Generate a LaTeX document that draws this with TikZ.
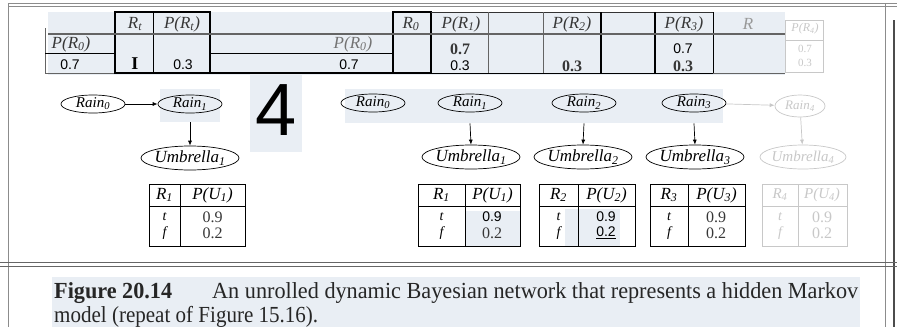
\documentclass[tikz,border=0pt]{standalone}
\usepackage{fontspec}
\setmainfont{Liberation Serif}
\newfontfamily\sansf{Liberation Sans}
\usetikzlibrary{shapes.geometric,arrows.meta}
\definecolor{bandblue}{RGB}{233,238,244}
\definecolor{linegray}{RGB}{100,100,100}
\definecolor{fadegray}{RGB}{200,200,200}
\definecolor{txtgray}{RGB}{55,55,55}
\definecolor{framegray}{RGB}{140,140,140}
\newcommand\fixw[1]{\makebox[40pt]{#1}}
\begin{document}
\begin{tikzpicture}[x=1pt,y=-1pt,
  lbl/.style={inner sep=0pt, font=\fontsize{17}{19}\selectfont\itshape, text=txtgray},
  tlbl/.style={inner sep=0pt, font=\fontsize{17}{19}\selectfont\itshape, text=black},
  tfl/.style={inner sep=0pt, font=\fontsize{14}{15}\selectfont\itshape, text=black},
  num/.style={inner sep=0pt, font=\fontsize{14}{16}\selectfont\sansf},
  sernum/.style={inner sep=0pt, font=\fontsize{16}{18}\selectfont, text=txtgray},
  rainnode/.style={ellipse, draw, line width=0.7pt, minimum width=64pt, minimum height=18pt, inner sep=0pt, font=\fontsize{15}{17}\selectfont\itshape},
  umbnode/.style={ellipse, draw, line width=0.7pt, minimum width=98pt, minimum height=24pt, inner sep=0pt, font=\fontsize{17}{19}\selectfont\itshape},
  arr/.style={-{Latex[length=5pt,width=4pt]}, line width=0.7pt},
  thickbox/.style={draw=black, line width=1.5pt},
  tline/.style={draw=black, line width=0.7pt},
  faded/.style={draw=fadegray, text=fadegray},
  capfont/.style={inner sep=0pt, anchor=base west, font=\fontsize{23}{26}\selectfont, text=black!85}
  ]
\useasboundingbox (0,0) rectangle (897,327);
\fill[white] (0,0) rectangle (897,327);

% ---------- frame ----------
\draw[framegray, line width=0.8pt] (8,3) -- (897,3);
\draw[framegray, line width=0.8pt] (8,6) -- (897,6);
\draw[framegray, line width=1pt] (8,3) -- (8,327);
\draw[framegray, line width=0.8pt] (885,3) -- (885,327);
\draw[black!70, line width=2.5pt] (894,20) -- (894,327);
\draw[black!60, line width=1pt] (0,262) -- (897,262);
\draw[black!60, line width=1pt] (0,266) -- (897,266);

% ---------- top table band ----------
\fill[bandblue] (48,12) rectangle (785,75);
\draw[linegray, line width=0.8pt] (45,28) -- (45,74);
\draw[linegray, line width=0.8pt] (45,73) -- (785,73);
\draw[black, line width=0.8pt] (45,53) -- (115,53);
\draw[thickbox] (115,12) rectangle (210,73);
\draw[tline] (153,12) -- (153,73);
\draw[thickbox] (210,34) rectangle (393,73);
\draw[tline] (210,53) -- (393,53);
\draw[thickbox] (393,12) rectangle (431,73);
\draw[black!80, line width=0.8pt] (431,12) -- (713,12);
\draw[black, line width=1pt] (431,73) -- (713,73);
\draw[linegray, line width=0.8pt] (488,12) -- (488,73);
\draw[linegray, line width=0.8pt] (543,12) -- (543,73);
\draw[black, line width=1.5pt] (601,12) -- (601,73);
\draw[black, line width=1.5pt] (655,12) -- (655,73);
\draw[black, line width=1pt] (713,12) -- (713,73);
\draw[linegray, line width=1.2pt] (48,34) -- (785,34);
\draw[fadegray, line width=0.6pt] (785,20) rectangle (823,72);
\draw[fadegray, line width=0.6pt] (785,40) -- (823,40);

\node[lbl] (hRt) at (135,24) {R\textsubscript{t}};
\node[lbl] (hPRt) at (182,24) {P(R\textsubscript{t})};
\node[lbl] (hPR0a) at (71,44) {P(R\textsubscript{0})};
\node[num] (v07a) at (70,65) {0.7};
\node[inner sep=0pt, font=\fontsize{18}{20}\selectfont\bfseries] (vI) at (135,64) {I};
\node[num] (v03a) at (183,65) {0.3};
\node[lbl, text=black!55] (hPR0b) at (353,44) {P(R\textsubscript{0})};
\node[num] (v07b) at (349,65) {0.7};
\node[lbl] (hRc) at (411,24) {R\textsubscript{0}};
\node[lbl] (hPR1) at (461,24) {P(R\textsubscript{1})};
\node[sernum, font=\fontsize{16}{18}\selectfont\bfseries] (v07c) at (460,49) {0.7};
\node[num] (v03c) at (460,66) {0.3};
\node[lbl] (hPR2) at (572,24) {P(R\textsubscript{2})};
\node[sernum, font=\fontsize{16}{18}\selectfont\bfseries] (v03d) at (572,66) {0.3};
\node[lbl] (hPR3) at (684,24) {P(R\textsubscript{3})};
\node[num] (v07e) at (683,49) {0.7};
\node[sernum, font=\fontsize{16}{18}\selectfont\bfseries] (v03e) at (683,66) {0.3};
\node[lbl, text=black!40] (hR) at (748,24) {R};
\node[lbl, text=fadegray, font=\fontsize{12}{14}\selectfont\itshape] (hPR4) at (805,29) {P(R\textsubscript{4})};
\node[sernum, text=fadegray, font=\fontsize{11}{12}\selectfont] (v07f) at (805,49) {0.7};
\node[sernum, text=fadegray, font=\fontsize{11}{12}\selectfont] (v03f) at (805,63) {0.3};

% ---------- big 4 ----------
\fill[bandblue] (250,75) rectangle (302,152);
\node[inner sep=0pt, font=\fontsize{74}{80}\selectfont\sansf, anchor=base] (four) at (276,135) {4};

% ---------- left network ----------
\fill[bandblue] (160,89) rectangle (220,122);
\node[rainnode] (lr0) at (93,104) {\fixw{Rain\textsubscript{0}}};
\node[rainnode] (lr1) at (190,104) {\fixw{Rain\textsubscript{1}}};
\node[umbnode] (lu1) at (190,158) {\fixw{Umbrella\textsubscript{1}}};
\draw[arr] (lr0) -- (lr1);
\draw[arr] ([yshift=-9pt]lr1.south) -- (lu1.north);
\draw[tline] (149,184) rectangle (245,246);
\draw[tline] (149,206) -- (245,206);
\draw[tline] (180,184) -- (180,246);
\node[tlbl] (lt-h1) at (164.5,195) {R\textsubscript{1}};
\node[tlbl] (lt-h2) at (212.5,195) {P(U\textsubscript{1})};
\node[tfl] (lt-t) at (164.5,217) {t};
\node[tfl] (lt-f) at (164.5,233) {f};
\node[sernum] (lt-09) at (212.5,217) {0.9};
\node[sernum] (lt-02) at (212.5,233) {0.2};

% ---------- right network ----------
\fill[bandblue] (345,89) rectangle (723,123);
\node[rainnode] (r0) at (373,103) {\fixw{Rain\textsubscript{0}}};
\node[rainnode] (r1) at (470,103) {\fixw{Rain\textsubscript{1}}};
\node[rainnode] (r2) at (584,103) {\fixw{Rain\textsubscript{2}}};
\node[rainnode] (r3) at (694,103) {\fixw{Rain\textsubscript{3}}};
\node[rainnode, faded, minimum width=50pt, minimum height=22pt, font=\fontsize{13}{15}\selectfont\itshape] (r4) at (800,106) {\makebox[30pt]{Rain\textsubscript{4}}};
\node[umbnode] (u1) at (471,157) {\fixw{Umbrella\textsubscript{1}}};
\node[umbnode] (u2) at (583,157) {\fixw{Umbrella\textsubscript{2}}};
\node[umbnode] (u3) at (695,157) {\fixw{Umbrella\textsubscript{3}}};
\node[umbnode, faded, minimum width=86pt, font=\fontsize{15}{17}\selectfont\itshape] (u4) at (803,157) {\fixw{Umbrella\textsubscript{4}}};
\draw[arr] ([yshift=-11pt]r1.south) -- (u1.north);
\draw[arr] ([yshift=-11pt]r2.south) -- (u2.north);
\draw[arr] ([yshift=-11pt]r3.south) -- (u3.north);
\draw[arr, fadegray] (r4) -- (u4);
\draw[arr, fadegray] (r3) -- (r4);

% right tables
\fill[bandblue] (466,211) rectangle (520,246);
\fill[bandblue] (565,209) rectangle (620,246);
\foreach \i/\a/\d/\b in {1/418/465/520, 2/539/578/635, 3/650/688/745} {
  \draw[tline] (\a,184) rectangle (\b,246);
  \draw[tline] (\a,206) -- (\b,206);
  \draw[tline] (\d,184) -- (\d,246);
  \node[tlbl] (t\i-h1) at ({(\a+\d)/2},195) {R\textsubscript{\i}};
  \node[tlbl] (t\i-h2) at ({(\d+\b)/2},195) {P(U\textsubscript{\i})};
  \node[tfl] (t\i-t) at ({(\a+\d)/2},217) {t};
  \node[tfl] (t\i-f) at ({(\a+\d)/2},233) {f};
}
\node[num] (t1-09) at (492,217) {0.9};
\node[sernum] (t1-02) at (492,233) {0.2};
\node[num] (t2-09) at (606,217) {0.9};
\node[num] (t2-02) at (606,233) {\underline{0.2}};
\node[sernum] (t3-09) at (716,217) {0.9};
\node[sernum] (t3-02) at (716,233) {0.2};
\draw[fadegray, line width=0.6pt] (762,184) rectangle (847,246);
\draw[fadegray, line width=0.6pt] (762,206) -- (847,206);
\draw[fadegray, line width=0.6pt] (798,184) -- (798,246);
\node[tlbl, text=fadegray, font=\fontsize{15}{17}\selectfont\itshape] (t4-h1) at (780,195) {R\textsubscript{4}};
\node[tlbl, text=fadegray, font=\fontsize{15}{17}\selectfont\itshape] (t4-h2) at (822,195) {P(U\textsubscript{4})};
\node[tfl, text=fadegray] (t4-t) at (780,217) {t};
\node[tfl, text=fadegray] (t4-f) at (780,233) {f};
\node[sernum, text=fadegray] (t4-09) at (822,217) {0.9};
\node[sernum, text=fadegray] (t4-02) at (822,233) {0.2};

% ---------- caption ----------
\fill[bandblue] (52,277) rectangle (860,327);
\node[capfont] (capA) at (54,298) {\resizebox{118pt}{\height}{\bfseries Figure 20.14}};
\node[capfont] (capB) at (212,298) {\resizebox{646pt}{\height}{An unrolled dynamic Bayesian network that represents a hidden Markov}};
\node[capfont] (capC) at (54,322) {\resizebox{264pt}{\height}{model (repeat of Figure 15.16).}};
\end{tikzpicture}
\end{document}
